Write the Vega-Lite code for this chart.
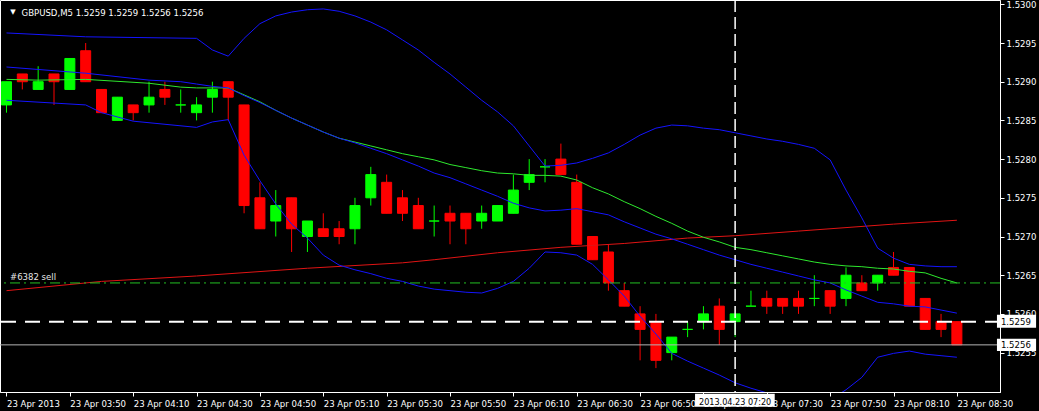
{
"$schema": "https://vega.github.io/schema/vega-lite/v6.json",
"autosize": {"type": "none"},
"width": 1000, "height": 392,
"padding": {"left": 0, "top": 0, "right": 39, "bottom": 19},
"background": "#000000",
"view": {"stroke": "#ffffff", "strokeWidth": 1},
"config": {"font": "DejaVu Sans Condensed, DejaVu Sans"},
"datasets": {
"candles": [
{"i":0,"o":1.5287,"h":1.5290,"l":1.5286,"c":1.5290},
{"i":1,"o":1.5291,"h":1.5291,"l":1.5289,"c":1.5290},
{"i":2,"o":1.5289,"h":1.5292,"l":1.5289,"c":1.5290},
{"i":3,"o":1.5291,"h":1.5291,"l":1.5287,"c":1.5290},
{"i":4,"o":1.5289,"h":1.5293,"l":1.5289,"c":1.5293},
{"i":5,"o":1.5294,"h":1.5295,"l":1.5290,"c":1.5290},
{"i":6,"o":1.5289,"h":1.5289,"l":1.5286,"c":1.5286},
{"i":7,"o":1.5285,"h":1.5288,"l":1.5285,"c":1.5288},
{"i":8,"o":1.5287,"h":1.5287,"l":1.5285,"c":1.5286},
{"i":9,"o":1.5287,"h":1.5290,"l":1.5286,"c":1.5288},
{"i":10,"o":1.5289,"h":1.5290,"l":1.5287,"c":1.5288},
{"i":11,"o":1.5287,"h":1.5289,"l":1.5286,"c":1.5287},
{"i":12,"o":1.5286,"h":1.5288,"l":1.5285,"c":1.5287},
{"i":13,"o":1.5288,"h":1.5290,"l":1.5286,"c":1.5289},
{"i":14,"o":1.5290,"h":1.5290,"l":1.5285,"c":1.5288},
{"i":15,"o":1.5287,"h":1.5287,"l":1.5273,"c":1.5274},
{"i":16,"o":1.5275,"h":1.5277,"l":1.5271,"c":1.5271},
{"i":17,"o":1.5272,"h":1.5276,"l":1.5270,"c":1.5274},
{"i":18,"o":1.5275,"h":1.5275,"l":1.5268,"c":1.5271},
{"i":19,"o":1.5270,"h":1.5272,"l":1.5268,"c":1.5272},
{"i":20,"o":1.5271,"h":1.5273,"l":1.5270,"c":1.5270},
{"i":21,"o":1.5271,"h":1.5272,"l":1.5269,"c":1.5270},
{"i":22,"o":1.5271,"h":1.5275,"l":1.5269,"c":1.5274},
{"i":23,"o":1.5275,"h":1.5279,"l":1.5274,"c":1.5278},
{"i":24,"o":1.5277,"h":1.5278,"l":1.5273,"c":1.5273},
{"i":25,"o":1.5275,"h":1.5276,"l":1.5272,"c":1.5273},
{"i":26,"o":1.5274,"h":1.5275,"l":1.5271,"c":1.5271},
{"i":27,"o":1.5272,"h":1.5274,"l":1.5270,"c":1.5272},
{"i":28,"o":1.5273,"h":1.5274,"l":1.5269,"c":1.5272},
{"i":29,"o":1.5273,"h":1.5273,"l":1.5269,"c":1.5271},
{"i":30,"o":1.5272,"h":1.5274,"l":1.5271,"c":1.5273},
{"i":31,"o":1.5272,"h":1.5274,"l":1.5272,"c":1.5274},
{"i":32,"o":1.5273,"h":1.5278,"l":1.5273,"c":1.5276},
{"i":33,"o":1.5277,"h":1.5280,"l":1.5276,"c":1.5278},
{"i":34,"o":1.5279,"h":1.5280,"l":1.5277,"c":1.5279},
{"i":35,"o":1.5280,"h":1.5282,"l":1.5278,"c":1.5278},
{"i":36,"o":1.5277,"h":1.5278,"l":1.5269,"c":1.5269},
{"i":37,"o":1.5270,"h":1.5270,"l":1.5267,"c":1.5267},
{"i":38,"o":1.5268,"h":1.5269,"l":1.5263,"c":1.5264},
{"i":39,"o":1.5263,"h":1.5264,"l":1.5261,"c":1.5261},
{"i":40,"o":1.5260,"h":1.5261,"l":1.5254,"c":1.5258},
{"i":41,"o":1.5259,"h":1.5260,"l":1.5253,"c":1.5254},
{"i":42,"o":1.5255,"h":1.5257,"l":1.5254,"c":1.5257},
{"i":43,"o":1.5258,"h":1.5259,"l":1.5257,"c":1.5258},
{"i":44,"o":1.5259,"h":1.5261,"l":1.5258,"c":1.5260},
{"i":45,"o":1.5261,"h":1.5262,"l":1.5256,"c":1.5258},
{"i":46,"o":1.5259,"h":1.5260,"l":1.5257,"c":1.5260},
{"i":47,"o":1.5261,"h":1.5263,"l":1.5261,"c":1.5261},
{"i":48,"o":1.5262,"h":1.5263,"l":1.5260,"c":1.5261},
{"i":49,"o":1.5262,"h":1.5262,"l":1.5260,"c":1.5261},
{"i":50,"o":1.5262,"h":1.5263,"l":1.5260,"c":1.5261},
{"i":51,"o":1.5262,"h":1.5265,"l":1.5261,"c":1.5262},
{"i":52,"o":1.5263,"h":1.5263,"l":1.5260,"c":1.5261},
{"i":53,"o":1.5262,"h":1.5266,"l":1.5261,"c":1.5265},
{"i":54,"o":1.5264,"h":1.5265,"l":1.5263,"c":1.5263},
{"i":55,"o":1.5264,"h":1.5265,"l":1.5263,"c":1.5265},
{"i":56,"o":1.5266,"h":1.5268,"l":1.5265,"c":1.5265},
{"i":57,"o":1.5266,"h":1.5266,"l":1.5261,"c":1.5261},
{"i":58,"o":1.5262,"h":1.5262,"l":1.5258,"c":1.5258},
{"i":59,"o":1.5259,"h":1.5260,"l":1.5257,"c":1.5258},
{"i":60,"o":1.5259,"h":1.5259,"l":1.5256,"c":1.5256}
],
"bbu": [
{"i":0,"v":1.52963},{"i":5,"v":1.52958},{"i":12,"v":1.52956},{"i":13,"v":1.52941},{"i":14,"v":1.52933},{"i":15,"v":1.52956},{"i":16,"v":1.52975},{"i":17,"v":1.52985},{"i":18,"v":1.52990},{"i":19,"v":1.52993},{"i":20,"v":1.52994},{"i":21,"v":1.52991},{"i":22,"v":1.52985},{"i":23,"v":1.52977},{"i":24,"v":1.52967},{"i":25,"v":1.52954},{"i":26,"v":1.52941},{"i":27,"v":1.52925},{"i":28,"v":1.52910},{"i":29,"v":1.52893},{"i":30,"v":1.52876},{"i":31,"v":1.52861},{"i":32,"v":1.52843},{"i":33,"v":1.52817},{"i":34,"v":1.52791},{"i":35,"v":1.52792},{"i":36,"v":1.52795},{"i":37,"v":1.52801},{"i":38,"v":1.52808},{"i":39,"v":1.52819},{"i":40,"v":1.52831},{"i":41,"v":1.52840},{"i":42,"v":1.52844},{"i":43,"v":1.52843},{"i":44,"v":1.52840},{"i":45,"v":1.52838},{"i":46,"v":1.52834},{"i":47,"v":1.52830},{"i":48,"v":1.52826},{"i":49,"v":1.52823},{"i":50,"v":1.52819},{"i":51,"v":1.52814},{"i":52,"v":1.52799},{"i":53,"v":1.52760},{"i":54,"v":1.52724},{"i":55,"v":1.52685},{"i":56,"v":1.52672},{"i":57,"v":1.52664},{"i":58,"v":1.52662},{"i":59,"v":1.52661},{"i":60,"v":1.52661}
],
"bbm": [
{"i":0,"v":1.52919},{"i":5,"v":1.52911},{"i":9,"v":1.52902},{"i":11,"v":1.52900},{"i":12,"v":1.52897},{"i":13,"v":1.52894},{"i":14,"v":1.52892},{"i":15,"v":1.52882},{"i":16,"v":1.52873},{"i":17,"v":1.52863},{"i":18,"v":1.52853},{"i":19,"v":1.52844},{"i":20,"v":1.52835},{"i":21,"v":1.52827},{"i":22,"v":1.52821},{"i":23,"v":1.52814},{"i":24,"v":1.52807},{"i":25,"v":1.52799},{"i":26,"v":1.52791},{"i":27,"v":1.52782},{"i":28,"v":1.52776},{"i":29,"v":1.52768},{"i":30,"v":1.52760},{"i":31,"v":1.52752},{"i":32,"v":1.52743},{"i":33,"v":1.52737},{"i":34,"v":1.52733},{"i":35,"v":1.52734},{"i":36,"v":1.52736},{"i":37,"v":1.52732},{"i":38,"v":1.52728},{"i":39,"v":1.52719},{"i":40,"v":1.52711},{"i":41,"v":1.52703},{"i":42,"v":1.52697},{"i":43,"v":1.52690},{"i":44,"v":1.52683},{"i":45,"v":1.52676},{"i":46,"v":1.52670},{"i":47,"v":1.52664},{"i":48,"v":1.52659},{"i":49,"v":1.52654},{"i":50,"v":1.52649},{"i":51,"v":1.52644},{"i":52,"v":1.52640},{"i":53,"v":1.52631},{"i":54,"v":1.52623},{"i":55,"v":1.52615},{"i":56,"v":1.52613},{"i":57,"v":1.52610},{"i":58,"v":1.52609},{"i":59,"v":1.52605},{"i":60,"v":1.52601}
],
"bbl": [
{"i":0,"v":1.52876},{"i":5,"v":1.52870},{"i":6,"v":1.52860},{"i":8,"v":1.52849},{"i":12,"v":1.52841},{"i":13,"v":1.52848},{"i":14,"v":1.52851},{"i":15,"v":1.52805},{"i":16,"v":1.52772},{"i":17,"v":1.52742},{"i":18,"v":1.52716},{"i":19,"v":1.52698},{"i":20,"v":1.52676},{"i":21,"v":1.52663},{"i":22,"v":1.52657},{"i":23,"v":1.52652},{"i":24,"v":1.52646},{"i":25,"v":1.52642},{"i":26,"v":1.52636},{"i":27,"v":1.52632},{"i":28,"v":1.52630},{"i":29,"v":1.52628},{"i":30,"v":1.52627},{"i":31,"v":1.52633},{"i":32,"v":1.52642},{"i":33,"v":1.52659},{"i":34,"v":1.52680},{"i":35,"v":1.52679},{"i":36,"v":1.52676},{"i":37,"v":1.52664},{"i":38,"v":1.52644},{"i":39,"v":1.52623},{"i":40,"v":1.52597},{"i":41,"v":1.52574},{"i":42,"v":1.52549},{"i":43,"v":1.52539},{"i":44,"v":1.52530},{"i":45,"v":1.52521},{"i":46,"v":1.52511},{"i":47,"v":1.52504},{"i":48,"v":1.52498},{"i":49,"v":1.52491},{"i":50,"v":1.52482},{"i":51,"v":1.52478},{"i":52,"v":1.52489},{"i":53,"v":1.52502},{"i":54,"v":1.52518},{"i":55,"v":1.52544},{"i":56,"v":1.52549},{"i":57,"v":1.52552},{"i":58,"v":1.52548},{"i":59,"v":1.52546},{"i":60,"v":1.52544}
],
"ma": [
{"i":0,"v":1.52903},{"i":2,"v":1.52902},{"i":5,"v":1.52903},{"i":9,"v":1.52898},{"i":11,"v":1.52893},{"i":12,"v":1.52892},{"i":14,"v":1.52892},{"i":15,"v":1.52883},{"i":16,"v":1.52874},{"i":17,"v":1.52863},{"i":18,"v":1.52853},{"i":19,"v":1.52844},{"i":20,"v":1.52835},{"i":21,"v":1.52827},{"i":22,"v":1.52822},{"i":23,"v":1.52817},{"i":24,"v":1.52812},{"i":25,"v":1.52807},{"i":26,"v":1.52803},{"i":27,"v":1.52799},{"i":28,"v":1.52793},{"i":29,"v":1.52789},{"i":30,"v":1.52785},{"i":31,"v":1.52782},{"i":32,"v":1.52781},{"i":33,"v":1.52779},{"i":34,"v":1.52779},{"i":35,"v":1.52778},{"i":36,"v":1.52773},{"i":37,"v":1.52763},{"i":38,"v":1.52755},{"i":39,"v":1.52745},{"i":40,"v":1.52736},{"i":41,"v":1.52726},{"i":42,"v":1.52717},{"i":43,"v":1.52707},{"i":44,"v":1.52699},{"i":45,"v":1.52693},{"i":46,"v":1.52686},{"i":47,"v":1.52683},{"i":48,"v":1.52679},{"i":49,"v":1.52675},{"i":50,"v":1.52671},{"i":51,"v":1.52667},{"i":52,"v":1.52664},{"i":53,"v":1.52662},{"i":54,"v":1.52661},{"i":55,"v":1.52659},{"i":56,"v":1.52658},{"i":57,"v":1.52655},{"i":58,"v":1.52653},{"i":59,"v":1.52646},{"i":60,"v":1.52640}
],
"ma2": [
{"i":0,"v":1.52630},{"i":6,"v":1.52642},{"i":12,"v":1.52649},{"i":19,"v":1.52659},{"i":25,"v":1.52666},{"i":27,"v":1.52670},{"i":31,"v":1.52679},{"i":35,"v":1.52686},{"i":39,"v":1.52691},{"i":43,"v":1.52698},{"i":46,"v":1.52701},{"i":50,"v":1.52707},{"i":56,"v":1.52716},{"i":60,"v":1.52721}
]
},
"encoding": {
"x": {"field": "i", "type": "quantitative", "title": null, "scale": {"domain": [-0.09375, 62.40625], "nice": false, "zero": false},
 "axis": {"title": null, "grid": false, "values": [0,4,8,12,16,20,24,28,32,36,40,44,48,52,56,60],
  "labelExpr": "datum.value == 0 ? '23 Apr 2013' : '23 Apr ' + (floor((210 + 5*datum.value)/60) < 10 ? '0' : '') + floor((210 + 5*datum.value)/60) + ':' + ((210 + 5*datum.value) % 60 < 10 ? '0' : '') + ((210 + 5*datum.value) % 60)",
  "labelAlign": "left", "labelBaseline": "top", "labelPadding": 2, "labelDx": 1, "tickSize": 4,
  "tickColor": "#ffffff", "domainColor": "#ffffff", "labelColor": "#ffffff", "labelFontSize": 9.5,
  "labelOverlap": false, "labelFlush": false, "labelBound": false}},
"y": {"field": "v", "type": "quantitative", "title": null, "scale": {"domain": [1.524991, 1.5300556], "nice": false, "zero": false},
 "axis": {"orient": "right", "title": null, "grid": false, "values": [1.5255,1.526,1.5265,1.527,1.5275,1.528,1.5285,1.529,1.5295,1.53],
  "format": ".4f", "tickSize": 4, "labelPadding": 2, "tickColor": "#ffffff", "domainColor": "#ffffff", "labelColor": "#ffffff",
  "labelFontSize": 9.5, "labelOverlap": false, "labelFlush": false, "labelBound": false}}
},
"layer": [
{
"data": {"name": "candles"},
"mark": {"type": "rule", "strokeWidth": 1},
"encoding": {
"y": {"field": "l", "type": "quantitative", "title": null, "scale": {"domain": [1.524991, 1.5300556], "nice": false, "zero": false},
 "axis": {"orient": "right", "title": null, "grid": false, "values": [1.5255,1.526,1.5265,1.527,1.5275,1.528,1.5285,1.529,1.5295,1.53],
  "format": ".4f", "tickSize": 4, "labelPadding": 2, "tickColor": "#ffffff", "domainColor": "#ffffff", "labelColor": "#ffffff",
  "labelFontSize": 9.5, "labelOverlap": false, "labelFlush": false, "labelBound": false}},
"y2": {"field": "h"},
"color": {"condition": {"test": "datum.c >= datum.o", "value": "#00ff00"}, "value": "#ff0000"}
}
},
{
"data": {"name": "candles"},
"mark": {"type": "bar", "size": 10, "strokeWidth": 1},
"encoding": {
"y": {"field": "o", "type": "quantitative", "title": null, "scale": {"domain": [1.524991, 1.5300556], "nice": false, "zero": false},
 "axis": {"orient": "right", "title": null, "grid": false, "values": [1.5255,1.526,1.5265,1.527,1.5275,1.528,1.5285,1.529,1.5295,1.53],
  "format": ".4f", "tickSize": 4, "labelPadding": 2, "tickColor": "#ffffff", "domainColor": "#ffffff", "labelColor": "#ffffff",
  "labelFontSize": 9.5, "labelOverlap": false, "labelFlush": false, "labelBound": false}},
"y2": {"field": "c"},
"fill": {"condition": {"test": "datum.c >= datum.o", "value": "#00ff00"}, "value": "#ff0000"},
"stroke": {"condition": {"test": "datum.c >= datum.o", "value": "#00ff00"}, "value": "#ff0000"}
}
},
{"data": {"name": "ma2"}, "mark": {"type": "line", "strokeWidth": 1, "color": "#e01414", "clip": true}},
{"data": {"name": "bbu"}, "mark": {"type": "line", "strokeWidth": 1, "color": "#1414ff", "clip": true}},
{"data": {"name": "bbl"}, "mark": {"type": "line", "strokeWidth": 1, "color": "#1414ff", "clip": true}},
{"data": {"name": "ma"}, "mark": {"type": "line", "strokeWidth": 1, "color": "#2ee82e", "clip": true}},
{"data": {"name": "bbm"}, "mark": {"type": "line", "strokeWidth": 1, "color": "#1414ff", "clip": true}},
{
"data": {"values": [{"v": 1.5264}]},
"mark": {"type": "rule", "color": "#22c022", "strokeWidth": 1, "strokeDash": [10, 4, 2, 4]},
"encoding": {"x": null}
},
{
"data": {"values": [{"v": 1.5256}]},
"mark": {"type": "rule", "color": "#b4b4b4", "strokeWidth": 1},
"encoding": {"x": null}
},
{
"data": {"values": [{"v": 1.5259}]},
"mark": {"type": "rule", "color": "#ffffff", "strokeWidth": 2, "strokeDash": [15, 9]},
"encoding": {"x": null}
},
{
"data": {"values": [{"i": 46}]},
"mark": {"type": "rule", "color": "#ffffff", "strokeWidth": 1.5, "strokeDash": [12, 5]},
"encoding": {"y": null}
},
{
"data": {"values": [{"i": 0.22, "v": 1.52644, "t": "#6382 sell"}]},
"mark": {"type": "text", "align": "left", "baseline": "alphabetic", "fontSize": 9.5, "color": "#e6e6e6"},
"encoding": {"text": {"field": "t"}}
},
{
"data": {"values": [{"i": 0.41, "v": 1.52988, "t": "▼"}]},
"mark": {"type": "text", "align": "center", "baseline": "alphabetic", "fontSize": 7, "color": "#ffffff", "font": "DejaVu Sans"},
"encoding": {"text": {"field": "t"}}
},
{
"data": {"values": [{"i": 0.95, "v": 1.52985, "t": "GBPUSD,M5  1.5259 1.5259 1.5256 1.5256"}]},
"mark": {"type": "text", "align": "left", "baseline": "alphabetic", "fontSize": 9.5, "color": "#ffffff"},
"encoding": {"text": {"field": "t"}}
},
{
"data": {"values": [{"i": 62.53, "i2": 65, "v": 1.52599, "v2": 1.52582}, {"i": 62.53, "i2": 65, "v": 1.52568, "v2": 1.52552}, {"i": 43.47, "i2": 48.5, "v": 1.52497, "v2": 1.5248}]},
"mark": {"type": "rect", "color": "#ffffff"},
"encoding": {"x2": {"field": "i2"}, "y2": {"field": "v2"}}
},
{
"data": {"values": [{"i": 62.78, "v": 1.5259, "t": "1.5259"}, {"i": 62.78, "v": 1.5256, "t": "1.5256"}]},
"mark": {"type": "text", "align": "left", "baseline": "middle", "fontSize": 9.5, "color": "#000000"},
"encoding": {"text": {"field": "t"}}
},
{
"data": {"values": [{"i": 43.72, "v": 1.52482, "t": "2013.04.23 07:20"}]},
"mark": {"type": "text", "align": "left", "baseline": "alphabetic", "fontSize": 9, "color": "#000000"},
"encoding": {"text": {"field": "t"}}
}
]
}
